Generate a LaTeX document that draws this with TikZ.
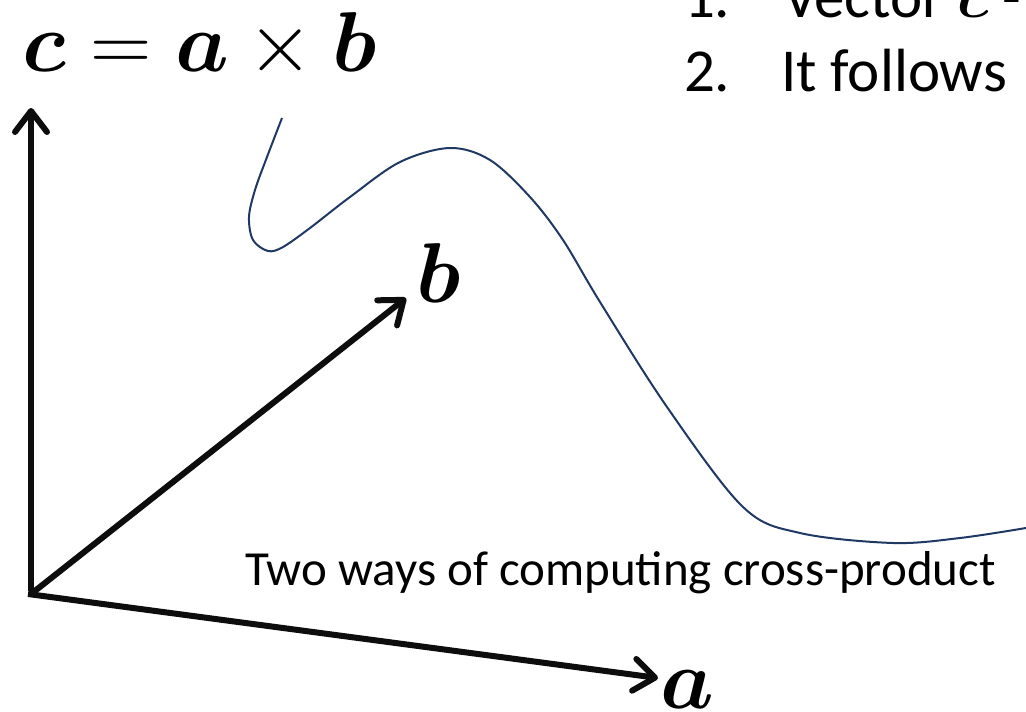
\RequirePackage{fix-cm}
\documentclass[tikz,border=0pt]{standalone}
\usepackage{amsmath,bm}
\usepackage{fontspec}
\setmainfont{Carlito}
\usetikzlibrary{arrows.meta}
\definecolor{axiscol}{HTML}{0D0D0D}
\definecolor{curvecol}{HTML}{1F3864}
\tikzset{
  axisarrow/.style={line width=6pt, draw=axiscol, line join=miter,
    -{Straight Barb[length=21pt, width=32pt, round]}},
  txt/.style={anchor=base west, inner sep=0pt, outer sep=0pt},
  big/.style={txt, font=\fontsize{61}{75}\selectfont},
  mathbig/.style={txt, font=\fontsize{85}{90}\selectfont},
}
\begin{document}
\begin{tikzpicture}[x=1pt, y=-1pt]
\useasboundingbox (0,0) rectangle (1026,712);
\clip (0,0) rectangle (1026,712);
% curve
\draw[curvecol, line width=2pt] plot[smooth, tension=0.55] coordinates {
  (282,118) (267,157) (255,190) (249,217) (253,240) (268,251) (283,247)
  (310,228) (350,197) (400,162) (450,148) (490,160) (530,197) (563,240)
  (600,302) (667,407) (743,507) (800,533) (893,543) (960,538) (1026,528)};
% axes
\coordinate (O) at (31,594);
\coordinate (C) at (31,108);
\coordinate (B) at (406,298);
\coordinate (A) at (658,678);
\draw[axisarrow] ([yshift=3pt]O) -- (C);
\draw[axisarrow] (O) -- (B);
\draw[axisarrow] ([xshift=-3pt]O) -- (A);
% labels
\node[mathbig] (formula) at (23,71) {$\boldsymbol{c}=\boldsymbol{a}\times\boldsymbol{b}$};
\node[mathbig] (blab) at (416,302) {$\boldsymbol{b}$};
\node[mathbig] (alab) at (660,708) {$\boldsymbol{a}$};
\node[txt, font=\fontsize{49}{58}\selectfont] (caption) at (245,585) {Two ways of computing cross-product};
\node[big] (n1) at (684,17) {1.};
\node[big] (l1) at (783,17) {Vector $\boldsymbol{c}$ -};
\node[big] (n2) at (684,91) {2.};
\node[big] (l2) at (781,91) {It follows};
\end{tikzpicture}
\end{document}
